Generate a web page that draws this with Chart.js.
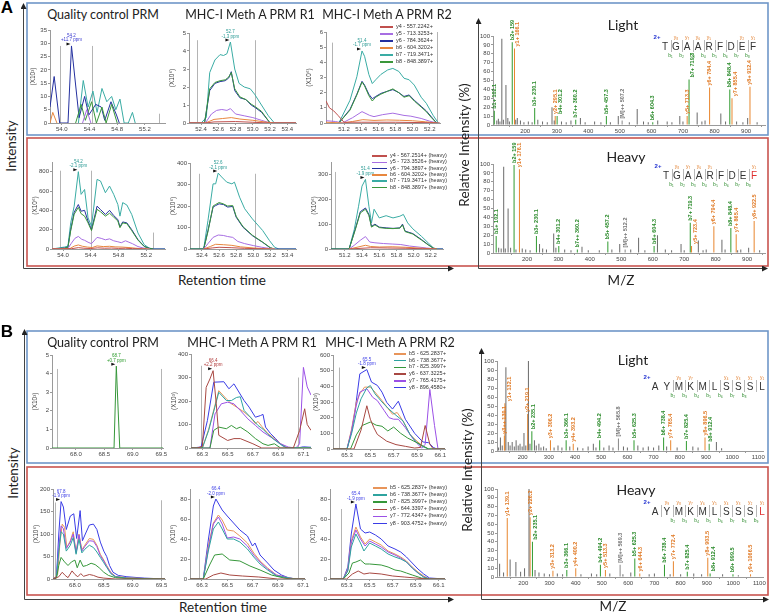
<!DOCTYPE html>
<html>
<head>
<meta charset="utf-8">
<script src="https://cdn.jsdelivr.net/npm/chart.js@4.4.1/dist/chart.umd.min.js"></script>
<style>
  html, body { margin: 0; padding: 0; background: #fff; }
  #fig { position: relative; width: 772px; height: 614px; overflow: hidden; font-family: Lato, "Open Sans", sans-serif; color: #222; }
  #fig canvas { position: absolute; }
  .t { position: absolute; white-space: nowrap; transform: translate(-50%, -50%); line-height: 1; }
  .r { transform: translate(-50%, -50%) rotate(-90deg); }
  .lg { position: absolute; white-space: nowrap; font: 5.5px Arial, sans-serif; color: #333; line-height: 1; transform: translateY(-50%); }
</style>
</head>
<body>
<div id="fig">
<svg width="772" height="614" style="position:absolute;left:0;top:0">
  <defs>
    <marker id="ah" markerWidth="6" markerHeight="6" refX="5" refY="3" orient="auto" markerUnits="userSpaceOnUse">
      <path d="M0,0 L6,3 L0,6 z" fill="#222"/>
    </marker>
  </defs>
  <rect x="27" y="3" width="741" height="132" fill="none" stroke="#6f96c8" stroke-width="1.6"/>
  <rect x="27" y="138" width="741" height="128" fill="none" stroke="#c9544f" stroke-width="1.6"/>
  <rect x="27" y="331" width="741" height="132" fill="none" stroke="#6f96c8" stroke-width="1.6"/>
  <rect x="27" y="467" width="741" height="128" fill="none" stroke="#c9544f" stroke-width="1.6"/>
  <g stroke="#444" stroke-width="1" fill="none">
    <line x1="23.5" y1="268.5" x2="23.5" y2="4" marker-end="url(#ah)"/>
    <line x1="23.5" y1="268.5" x2="453" y2="268.5" marker-end="url(#ah)"/>
    <line x1="478.5" y1="268.5" x2="478.5" y2="19" marker-end="url(#ah)"/>
    <line x1="478.5" y1="268.5" x2="767" y2="268.5" marker-end="url(#ah)"/>
    <line x1="24.5" y1="599.5" x2="24.5" y2="330" marker-end="url(#ah)"/>
    <line x1="24.5" y1="599.5" x2="453" y2="599.5" marker-end="url(#ah)"/>
    <line x1="481.5" y1="599.5" x2="481.5" y2="349" marker-end="url(#ah)"/>
    <line x1="481.5" y1="599.5" x2="768" y2="599.5" marker-end="url(#ah)"/>
  </g>
</svg>
</div>
<script>
// ---------- chromatogram ticks ----------
const tA_qc = [54.0, 54.4, 54.8, 55.2];
const tA_r1 = [52.4, 52.6, 52.8, 53.0, 53.2, 53.4];
const tA_r2 = [51.2, 51.4, 51.6, 51.8, 52.0, 52.2];
const tB_qc = [68.0, 68.5, 69.0, 69.5];
const tB_r1 = [66.3, 66.5, 66.7, 66.9, 67.1];
const tB_r2 = [65.3, 65.5, 65.7, 65.9, 66.1];
const yA1qc = [0, 5, 10, 15, 20, 25, 30, 35];
const yA1r1 = [0, 1, 2, 3, 4, 5];
const yA1r2 = [0, 1, 2, 3, 4, 5, 6];
const yA2qc = [0, 200, 400, 600, 800];
const yA2r1 = [0, 100, 200, 300, 400];
const yA2r2 = [0, 100, 200, 300];
const yB1qc = [0, 1, 2, 3, 4, 5];
const yB1r1 = [0, 100, 200, 300, 400];
const yB1r2 = [0, 100, 200, 300, 400, 500, 600];
const yB2qc = [0, 50, 100, 150, 200];
const yB2r = [0, 20, 40, 60, 80];
const tMzA = [200, 300, 400, 500, 600, 700, 800, 900];
const tMzB = [200, 300, 400, 500, 600, 700, 800, 900, 1000, 1100];
const tPct = [0, 10, 20, 30, 40, 50, 60, 70, 80, 90, 100];

// ---------- legends ----------
const legA1 = ['y4 - 557.2242+', 'y5 - 713.3253+', 'y6 - 784.3624+', 'b6 - 604.3202+', 'b7 - 719.3471+', 'b8 - 848.3897+'];
const legA2 = ['y4 - 567.2514+ (heavy)', 'y5 - 723.3526+ (heavy)', 'y6 - 794.3897+ (heavy)', 'b6 - 604.3202+ (heavy)', 'b7 - 719.3471+ (heavy)', 'b8 - 848.3897+ (heavy)'];
const legB1 = ['b5 - 625.2837+', 'b6 - 738.3677+', 'b7 - 825.3997+', 'y6 - 637.3225+', 'y7 - 765.4175+', 'y8 - 896.4580+'];
const legB2 = ['b5 - 625.2837+ (heavy)', 'b6 - 738.3677+ (heavy)', 'b7 - 825.3997+ (heavy)', 'y6 - 644.3397+ (heavy)', 'y7 - 772.4347+ (heavy)', 'y8 - 903.4752+ (heavy)'];

// ---------- A, light (top row) ----------
const A1qc_b6 = [[53.83,0],[53.87,4],[53.93,0]];
const A1qc_y5 = [[54.30,0],[54.36,5],[54.42,0]];
const A1qc_b8 = [[54.20,0],[54.28,7],[54.34,1],[54.43,8],[54.50,0],[54.58,6],[54.64,0],[54.72,7],[54.80,0]];
const A1qc_y6 = [[53.83,6],[53.89,17.5],[53.97,0],[54.09,0],[54.14,29],[54.25,2],[54.33,10],[54.39,3],[54.49,7],[54.57,6],[54.62,1],[54.71,8],[54.79,3],[54.83,0]];
const A1qc_b7 = [[54.24,0],[54.31,16],[54.38,6],[54.45,12],[54.51,4],[54.58,13],[54.65,8],[54.72,10],[54.78,5],[54.84,9],[54.90,0],[54.96,0],[55.02,4],[55.06,0]];

const A1r1_y4 = [[52.26,0],[52.45,0],[52.55,0.06],[52.8,0.08],[53.0,0.04],[53.2,0],[53.5,0]];
const A1r1_b6 = [[52.26,0],[52.45,0],[52.55,0.2],[52.65,0.25],[52.75,0.3],[52.85,0.22],[53.0,0.15],[53.15,0.05],[53.25,0],[53.5,0]];
const A1r1_y5 = [[52.26,0],[52.45,0],[52.52,0.5],[52.58,0.7],[52.64,0.75],[52.70,0.7],[52.74,0.8],[52.80,0.5],[52.90,0.4],[53.00,0.3],[53.10,0.15],[53.20,0],[53.5,0]];
const A1r1_b8 = [[52.26,0],[52.44,0],[52.50,1.9],[52.56,2.25],[52.62,2.35],[52.68,2.4],[52.72,2.55],[52.75,2.8],[52.79,1.9],[52.85,1.45],[52.92,1.3],[52.98,1.05],[53.03,0.9],[53.10,0.65],[53.20,0],[53.5,0]];
const A1r1_y6 = [[52.26,0],[52.44,0],[52.50,1.8],[52.56,2.2],[52.62,2.3],[52.68,2.35],[52.72,2.5],[52.75,2.85],[52.79,1.8],[52.85,1.4],[52.92,1.3],[52.98,1.0],[53.03,0.85],[53.10,0.6],[53.20,0],[53.5,0]];
const A1r1_b7 = [[52.26,0],[52.40,0],[52.46,0.3],[52.50,2.8],[52.56,3.5],[52.62,3.8],[52.66,3.75],[52.70,3.85],[52.74,4.5],[52.79,3.0],[52.84,2.2],[52.90,2.0],[52.97,1.9],[53.02,1.6],[53.10,1.0],[53.18,0.4],[53.25,0],[53.5,0]];

const A1r2_y4 = [[50.99,1.45],[51.03,1.0],[51.08,0.8],[51.13,0.5],[51.2,0.05],[51.4,0.05],[51.8,0.05],[52.2,0.02],[52.32,0]];
const A1r2_b6 = [[50.99,0.05],[51.2,0],[51.3,0.1],[51.42,0.22],[51.55,0.17],[51.7,0.2],[51.85,0.18],[52.0,0.15],[52.15,0.08],[52.28,0]];
const A1r2_y5 = [[50.99,0.15],[51.1,0.1],[51.18,0],[51.3,0.35],[51.41,0.75],[51.5,0.5],[51.55,0.42],[51.65,0.55],[51.77,0.65],[51.9,0.5],[51.98,0.45],[52.1,0.3],[52.2,0.12],[52.28,0]];
const A1r2_b8 = [[51.14,0],[51.27,0.85],[51.35,1.85],[51.41,2.7],[51.44,2.45],[51.49,1.8],[51.53,1.45],[51.57,1.7],[51.63,1.9],[51.71,2.1],[51.77,2.25],[51.84,2.0],[51.90,1.7],[51.96,1.8],[52.02,1.45],[52.10,1.05],[52.16,0.75],[52.22,0.35],[52.28,0]];
const A1r2_y6 = [[51.14,0],[51.27,0.9],[51.35,1.9],[51.41,2.75],[51.44,2.5],[51.49,1.9],[51.53,1.6],[51.57,1.75],[51.63,1.95],[51.71,2.1],[51.77,2.2],[51.84,2.0],[51.90,1.75],[51.96,1.85],[52.02,1.5],[52.10,1.1],[52.16,0.8],[52.22,0.4],[52.28,0]];
const A1r2_b7 = [[51.14,0],[51.27,1.5],[51.35,3.05],[51.41,4.75],[51.44,4.4],[51.49,3.2],[51.53,2.6],[51.57,2.85],[51.63,3.2],[51.71,3.5],[51.77,3.6],[51.84,3.4],[51.90,2.95],[51.96,2.85],[52.02,2.5],[52.10,1.7],[52.16,1.3],[52.24,0.5],[52.30,0]];

// ---------- A, heavy (bottom row) ----------
const A2qc_y4 = [[53.84,0],[54.12,3],[54.22,14],[54.3,8],[54.4,5],[54.5,12],[54.6,8],[54.7,10],[54.8,6],[54.9,8],[55.0,4],[55.1,2],[55.2,0]];
const A2qc_b6 = [[53.84,0],[54.1,5],[54.16,30],[54.22,42],[54.28,28],[54.35,20],[54.42,15],[54.49,32],[54.58,25],[54.67,28],[54.75,22],[54.85,20],[54.95,15],[55.05,8],[55.15,2],[55.25,0]];
const A2qc_y5 = [[53.84,0],[54.07,5],[54.12,60],[54.17,110],[54.22,130],[54.27,100],[54.31,90],[54.36,70],[54.41,55],[54.49,120],[54.55,110],[54.61,95],[54.67,105],[54.73,85],[54.79,75],[54.84,65],[54.9,85],[54.95,70],[55.0,55],[55.08,25],[55.17,8],[55.25,0]];
const A2qc_b8 = [[53.84,0],[54.02,8],[54.07,18],[54.11,190],[54.16,360],[54.22,430],[54.26,365],[54.31,340],[54.36,270],[54.41,190],[54.49,410],[54.54,385],[54.61,340],[54.67,370],[54.73,330],[54.79,290],[54.82,220],[54.86,270],[54.92,262],[54.99,190],[55.08,92],[55.17,25],[55.24,6],[55.30,0]];
const A2qc_y6 = [[53.84,0],[54.02,10],[54.07,20],[54.11,200],[54.16,380],[54.22,460],[54.26,391],[54.31,400],[54.36,287],[54.41,200],[54.49,443],[54.54,408],[54.61,357],[54.67,400],[54.73,346],[54.79,305],[54.82,228],[54.86,280],[54.92,270],[54.99,200],[55.08,97],[55.17,28],[55.24,8],[55.30,0],[55.47,0]];
const A2qc_b7 = [[53.84,0],[54.02,20],[54.07,30],[54.11,270],[54.16,443],[54.22,800],[54.26,565],[54.31,616],[54.36,322],[54.41,235],[54.49,720],[54.54,703],[54.61,582],[54.67,651],[54.73,565],[54.79,460],[54.82,340],[54.86,480],[54.92,455],[54.99,357],[55.08,166],[55.17,45],[55.24,10],[55.30,0],[55.47,0]];

const A2r1_y4 = [[52.42,0],[52.52,5],[52.6,8],[52.75,6],[52.9,3],[53.1,1],[53.2,0]];
const A2r1_b6 = [[52.42,0],[52.5,12],[52.56,22],[52.65,20],[52.75,17],[52.85,10],[53.0,5],[53.15,1],[53.25,0]];
const A2r1_y5 = [[52.42,0],[52.47,25],[52.53,54],[52.59,65],[52.65,63],[52.70,58],[52.76,54],[52.82,35],[52.9,25],[53.0,16],[53.1,8],[53.2,2],[53.25,0]];
const A2r1_b8 = [[52.26,0],[52.42,0],[52.47,80],[52.53,200],[52.56,207],[52.60,216],[52.65,210],[52.70,200],[52.76,202],[52.80,152],[52.88,104],[52.99,64],[53.11,32],[53.20,6],[53.25,0]];
const A2r1_y6 = [[52.26,0],[52.42,0],[52.47,86],[52.53,195],[52.56,202],[52.60,210],[52.65,207],[52.70,195],[52.76,198],[52.80,148],[52.88,101],[52.99,62],[53.11,31],[53.20,5],[53.25,0],[53.5,0]];
const A2r1_b7 = [[52.26,0],[52.42,0],[52.47,132],[52.53,303],[52.56,303],[52.59,353],[52.63,335],[52.69,311],[52.75,303],[52.78,311],[52.84,241],[52.90,187],[52.99,140],[53.11,86],[53.19,39],[53.25,8],[53.30,0],[53.5,0]];

const A2r2_y4 = [[51.25,0],[51.4,3],[51.5,5],[51.7,4],[51.9,3],[52.1,1],[52.25,0]];
const A2r2_b6 = [[51.25,0],[51.33,6],[51.44,15],[51.5,10],[51.6,8],[51.75,9],[51.9,7],[52.05,4],[52.2,1],[52.27,0]];
const A2r2_y5 = [[51.25,0],[51.31,15],[51.38,35],[51.44,50],[51.49,28],[51.55,25],[51.65,22],[51.75,20],[51.85,18],[51.95,12],[52.05,8],[52.15,4],[52.25,0]];
const A2r2_b8 = [[51.04,0],[51.25,0],[51.32,75],[51.38,145],[51.44,160],[51.48,135],[51.51,88],[51.55,97],[51.60,86],[51.68,83],[51.76,82],[51.84,84],[51.87,97],[51.90,70],[51.99,60],[52.09,36],[52.17,16],[52.23,3],[52.27,0]];
const A2r2_y6 = [[51.04,0],[51.25,0],[51.32,78],[51.38,150],[51.44,165],[51.48,139],[51.51,91],[51.55,100],[51.60,88],[51.68,85],[51.76,83],[51.84,85],[51.87,100],[51.90,72],[51.99,62],[52.09,38],[52.17,17],[52.23,3],[52.27,0],[52.34,0]];
const A2r2_b7 = [[51.04,0],[51.25,0],[51.31,78],[51.36,172],[51.40,253],[51.44,280],[51.48,172],[51.51,105],[51.54,160],[51.60,125],[51.68,134],[51.76,125],[51.84,132],[51.88,139],[51.93,105],[51.99,81],[52.09,51],[52.17,24],[52.23,4],[52.27,0],[52.34,0]];

// ---------- B, light (top row) ----------
const B1qc_b7 = [[67.58,0],[68.67,0],[68.71,4.4],[68.77,0],[69.53,0]];

const B1r1_y6 = [[66.21,0],[66.26,0],[66.30,7],[66.33,258],[66.36,294],[66.385,329],[66.41,188],[66.43,54],[66.50,32],[66.55,40],[66.60,40],[66.70,18],[66.77,0],[67.02,0],[67.07,75],[67.11,167],[67.13,100],[67.16,75]];
const B1r1_b7 = [[66.21,0],[66.36,0],[66.39,75],[66.43,89],[66.49,82],[66.53,96],[66.57,82],[66.60,89],[66.66,68],[66.72,40],[66.78,18],[66.82,11],[66.87,18],[66.92,0],[67.16,0]];
const B1r1_b6 = [[66.21,0],[66.30,0],[66.35,75],[66.43,237],[66.49,202],[66.53,202],[66.57,215],[66.60,218],[66.63,160],[66.70,120],[66.74,96],[66.78,80],[66.82,58],[66.87,35],[66.92,15],[66.97,0],[67.16,0]];
const B1r1_y7 = [[66.21,0],[66.36,0],[66.40,145],[66.45,188],[66.50,195],[66.55,188],[66.60,160],[66.66,124],[66.72,96],[66.78,68],[66.86,40],[66.92,18],[66.98,4],[67.04,0],[67.07,18],[67.10,343],[67.13,260],[67.16,225]];
const B1r1_b5 = [[66.21,0],[66.30,0],[66.35,80],[66.43,244],[66.49,209],[66.53,188],[66.58,171],[66.63,153],[66.68,131],[66.72,103],[66.74,113],[66.77,92],[66.82,61],[66.87,40],[66.92,18],[66.97,0],[67.16,0]];
const B1r1_y8 = [[66.21,0],[66.29,4],[66.34,117],[66.39,280],[66.47,282],[66.51,252],[66.55,273],[66.63,202],[66.67,174],[66.72,131],[66.76,138],[66.78,143],[66.80,89],[66.84,61],[66.88,40],[66.93,11],[66.97,0],[67.05,0],[67.1,5],[67.16,3]];

const B1r2_y6 = [[65.18,0],[65.36,0],[65.42,120],[65.47,276],[65.50,190],[65.53,136],[65.56,93],[65.64,50],[65.72,28],[65.80,17],[65.88,6],[65.93,10],[65.97,150],[66.01,30],[66.04,0],[66.14,0]];
const B1r2_b7 = [[65.18,0],[65.33,0],[65.38,90],[65.43,150],[65.50,172],[65.55,152],[65.60,145],[65.65,115],[65.70,140],[65.76,100],[65.82,70],[65.90,40],[65.95,20],[66.0,0],[66.14,0]];
const B1r2_b6 = [[65.18,0],[65.30,0],[65.34,100],[65.38,230],[65.42,320],[65.47,390],[65.50,405],[65.54,352],[65.60,300],[65.65,261],[65.72,215],[65.78,179],[65.84,93],[65.90,40],[65.95,15],[66.0,0],[66.14,0]];
const B1r2_y7 = [[65.18,0],[65.30,0],[65.34,120],[65.38,280],[65.41,363],[65.47,385],[65.52,330],[65.56,309],[65.62,244],[65.66,200],[65.70,190],[65.74,190],[65.80,136],[65.86,71],[65.91,28],[65.94,5],[65.97,30],[66.01,380],[66.05,150],[66.08,0],[66.14,0]];
const B1r2_b5 = [[65.18,0],[65.30,0],[65.34,130],[65.38,300],[65.41,352],[65.45,395],[65.50,395],[65.54,363],[65.60,309],[65.65,260],[65.69,222],[65.73,233],[65.78,179],[65.84,93],[65.90,50],[65.95,17],[66.0,0],[66.14,0]];
const B1r2_y8 = [[65.18,0],[65.30,0],[65.34,114],[65.37,250],[65.41,480],[65.47,507],[65.51,427],[65.56,406],[65.60,363],[65.64,298],[65.69,255],[65.74,305],[65.80,190],[65.88,100],[65.95,45],[66.0,40],[66.04,10],[66.07,0],[66.14,0]];

// ---------- B, heavy (bottom row) ----------
const B2qc_y6 = [[67.62,0],[67.72,5],[67.78,15],[67.83,8],[67.88,3],[67.95,18],[68.0,10],[68.05,5],[68.1,12],[68.15,6],[68.25,10],[68.32,8],[68.4,4],[68.5,2],[68.7,0],[69.56,0]];
const B2qc_b7 = [[67.62,0],[67.68,2],[67.72,30],[67.76,48],[67.82,38],[67.88,30],[67.94,38],[68.0,42],[68.04,25],[68.09,42],[68.14,28],[68.2,30],[68.28,35],[68.35,32],[68.42,25],[68.5,15],[68.58,8],[68.7,3],[68.9,1],[69.56,0]];
const B2qc_b6 = [[67.62,0],[67.68,4],[67.72,60],[67.76,105],[67.80,100],[67.85,62],[67.92,75],[67.97,92],[68.02,55],[68.07,88],[68.12,58],[68.17,66],[68.25,75],[68.32,70],[68.38,60],[68.44,48],[68.50,36],[68.55,26],[68.62,12],[68.7,5],[68.9,2],[69.56,0]];
const B2qc_y7 = [[67.62,0],[67.68,5],[67.72,70],[67.76,118],[67.80,112],[67.85,68],[67.92,82],[67.97,100],[68.02,58],[68.07,98],[68.12,62],[68.17,72],[68.25,85],[68.32,84],[68.38,72],[68.44,52],[68.50,40],[68.55,28],[68.62,14],[68.7,5],[68.9,2],[69.56,0]];
const B2qc_b5 = [[67.62,0],[67.70,10],[67.74,80],[67.78,122],[67.82,115],[67.86,70],[67.92,85],[67.97,105],[68.02,60],[68.07,100],[68.12,65],[68.17,75],[68.25,90],[68.32,88],[68.38,75],[68.44,55],[68.50,42],[68.55,30],[68.62,15],[68.7,6],[68.9,3],[69.2,1],[69.56,0]];
const B2qc_y8 = [[67.62,0],[67.68,5],[67.72,100],[67.76,172],[67.80,160],[67.85,110],[67.92,140],[67.98,145],[68.03,90],[68.09,152],[68.13,85],[68.18,100],[68.25,120],[68.32,122],[68.38,110],[68.44,82],[68.50,62],[68.55,50],[68.60,30],[68.66,15],[68.75,8],[68.9,5],[69.2,2],[69.56,0]];

const B2r1_y6 = [[66.205,0],[66.33,0],[66.39,4],[66.45,6],[66.52,4],[66.62,3],[66.75,2],[66.9,0],[67.116,0]];
const B2r1_b7 = [[66.205,0],[66.31,0],[66.36,14],[66.40,24],[66.46,25],[66.52,19],[66.60,18],[66.68,13],[66.76,9],[66.85,4],[66.95,1],[67.0,0],[67.116,0]];
const B2r1_b6 = [[66.205,0],[66.31,0],[66.35,28],[66.39,50],[66.43,57],[66.46,50],[66.50,40],[66.55,40],[66.60,37],[66.66,30],[66.71,22],[66.76,15],[66.82,9],[66.89,3],[66.99,1],[67.05,0],[67.116,0]];
const B2r1_y7 = [[66.205,0],[66.31,0],[66.35,30],[66.39,55],[66.43,62],[66.46,55],[66.50,41],[66.55,42],[66.60,40],[66.66,33],[66.71,24],[66.76,17],[66.82,10],[66.89,4],[66.99,1],[67.05,0],[67.116,0]];
const B2r1_b5 = [[66.205,0],[66.31,0],[66.35,33],[66.39,56],[66.43,64],[66.46,59],[66.50,49],[66.55,48],[66.60,43],[66.66,36],[66.71,26],[66.76,18],[66.82,11],[66.89,4],[66.99,1],[67.05,0],[67.116,0]];
const B2r1_y8 = [[66.205,0],[66.31,0],[66.35,39],[66.39,73],[66.41,80],[66.46,69],[66.50,63],[66.55,56],[66.60,49],[66.66,43],[66.70,33],[66.72,36],[66.76,24],[66.82,16],[66.87,9],[66.93,4],[66.99,1],[67.05,0],[67.116,0]];

const B2r2_y6 = [[65.155,0],[65.3,0],[65.35,5],[65.4,8],[65.45,5],[65.5,6],[65.6,5],[65.7,3],[65.8,2],[65.9,1],[66.0,0],[66.155,0]];
const B2r2_b7 = [[65.155,0],[65.27,0],[65.32,6],[65.35,16],[65.38,17],[65.42,19],[65.46,15],[65.5,15],[65.6,14],[65.66,12],[65.72,9],[65.77,8],[65.82,6],[65.87,4],[65.95,1],[66.02,0],[66.155,0]];
const B2r2_b6 = [[65.155,0],[65.27,0],[65.31,8],[65.34,32],[65.38,45],[65.42,36],[65.45,28],[65.5,36],[65.55,33],[65.6,30],[65.66,25],[65.72,22],[65.77,20],[65.82,17],[65.87,11],[65.92,6],[65.97,2],[66.02,0],[66.155,0]];
const B2r2_y7 = [[65.155,0],[65.27,0],[65.31,9],[65.34,36],[65.38,49],[65.42,40],[65.46,33],[65.5,38],[65.55,35],[65.6,32],[65.66,27],[65.72,24],[65.77,21],[65.82,17],[65.87,11],[65.92,6],[65.97,2],[66.02,0],[66.155,0]];
const B2r2_b5 = [[65.155,0],[65.27,0],[65.31,10],[65.34,38],[65.38,52],[65.42,42],[65.46,35],[65.5,40],[65.55,37],[65.6,34],[65.66,28],[65.72,25],[65.77,22],[65.82,18],[65.87,12],[65.92,7],[65.97,3],[66.02,0],[66.155,0]];
const B2r2_y8 = [[65.155,0],[65.27,0],[65.31,12],[65.34,45],[65.38,75],[65.42,50],[65.46,46],[65.5,47],[65.55,44],[65.6,40],[65.66,33],[65.72,30],[65.77,27],[65.82,22],[65.87,16],[65.92,10],[65.97,5],[66.02,1],[66.155,0]];

// ---------- spectra: [m/z, relative intensity %, label] ----------
const aLt_gray = [[110,5],[115,7],[120,4],[126,97],[131,6],[139,45],[145,8],[150,4],[170,6],[175,8],[185,5],[196,3],[210,4],[222,3],[240,6],[255,4],[270,3],[285,20],[292,5],[315,4],[330,3],[345,5],[375,8],[390,3],[420,4],[440,3],[470,3],[495,10],[530,3],[555,18],[575,4],[590,3],[620,5],[650,4],[665,3],[690,10],[700,4],[745,14],[760,4],[770,5],[820,13],[835,4],[870,4],[890,3],[905,8],[935,3]];
const aLt_b = [[102.1,16,'b1+ 102.1'],[159,93,'b2+ 159'],[230.1,19,'b3+ 230.1'],[301.2,10,'b4+ 301.2'],[360.2,6,'b7++ 360.2'],[457.3,10,'b5+ 457.3'],[604.3,3,'b6+ 604.3'],[719.3,51,'b7+ 719.3'],[848.4,40,'b8+ 848.4']];
const aLt_y = [[166.1,86,'y1+ 166.1'],[295.1,10,'y2+ 295.1'],[713.3,10,'y5+ 713.3'],[784.4,42,'y6+ 784.4'],[855.4,30,'y7+ 855.4'],[912.4,43,'y8+ 912.4']];
const aLt_m = [[507.2,5,'[M]++ 507.2']];

const aHv_gray = [[110,6],[118,5],[126,97],[131,5],[140,50],[148,6],[165,4],[185,5],[196,4],[210,3],[240,10],[250,5],[262,4],[285,22],[292,6],[320,4],[340,3],[375,7],[395,3],[430,3],[470,4],[495,10],[530,4],[555,17],[575,3],[615,20],[640,4],[660,3],[690,10],[700,3],[745,14],[760,3],[770,4],[820,15],[830,4],[870,3],[880,4],[905,6],[940,3]];
const aHv_b = [[102.1,19,'b1+ 102.1'],[159,99,'b2+ 159'],[230.1,19,'b3+ 230.1'],[301.2,8,'b4+ 301.2'],[360.2,4,'b7++ 360.2'],[457.2,13,'b5+ 457.2'],[604.3,8,'b6+ 604.3'],[719.3,34,'b7+ 719.3'],[848.4,28,'b8+ 848.4']];
const aHv_y = [[176.1,94,'y1+ 176.1'],[723.4,8,'y5+ 723.4'],[794.4,30,'y6+ 794.4'],[865.4,21,'y7+ 865.4'],[922.5,36,'y8+ 922.5']];
const aHv_m = [[512.2,4,'[M]++ 512.2']];

const bLt_gray = [[108,4],[115,15],[122,6],[136,93],[145,10],[152,6],[160,10],[168,5],[175,12],[183,6],[190,8],[198,5],[205,20],[212,6],[222,100],[228,8],[245,12],[252,6],[262,8],[270,4],[280,5],[290,3],[320,4],[335,6],[350,4],[380,5],[410,4],[430,3],[450,5],[470,8],[480,4],[510,4],[530,6],[545,4],[585,5],[600,4],[640,6],[660,4],[680,5],[700,4],[720,6],[750,5],[790,4],[850,5],[870,4],[940,10],[960,3]];
const bLt_b = [[235.1,22,'b2+ 235.1'],[366.1,12,'b3+ 366.1'],[494.2,12,'b4+ 494.2'],[625.3,12,'b5+ 625.3'],[738.4,15,'b6+ 738.4'],[825.4,11,'b7+ 825.4'],[912.4,8,'b8+ 912.4']];
const bLt_y = [[130.1,17,'y3++ 130.1'],[132.1,53,'y1+ 132.1'],[219.1,41,'y2+ 219.1'],[306.2,12,'y3+ 306.2'],[393.2,8,'y4+ 393.2'],[765.4,12,'y7+ 765.4'],[896.5,15,'y8+ 896.5']];
const bLt_m = [[565.8,14,'[M]++ 565.8']];

const bHv_gray = [[110,15],[125,5],[150,20],[172,17],[190,6],[205,10],[222,100],[245,8],[260,5],[280,4],[300,3],[330,4],[350,3],[420,3],[460,4],[480,3],[530,4],[580,3],[610,5],[680,3],[700,4],[760,3],[800,3],[850,4],[880,3],[960,3],[1020,2]];
const bHv_b = [[235.1,40,'b2+ 235.1'],[366.1,8,'b3+ 366.1'],[494.2,14,'b4+ 494.2'],[625.3,21,'b5+ 625.3'],[738.4,14,'b6+ 738.4'],[825.4,6,'b7+ 825.4'],[912.4,4,'b8+ 912.4'],[999.5,3,'b9+ 999.5']];
const bHv_y = [[139.1,67,'y1+ 139.1'],[226.2,68,'y2+ 226.2'],[313.2,7,'y3+ 313.2'],[400.2,10,'y4+ 400.2'],[513.3,8,'y5+ 513.3'],[644.3,4,'y6+ 644.3'],[772.4,18,'y7+ 772.4'],[903.5,22,'y8+ 903.5'],[1066.5,3,'y9+ 1066.5']];
const bHv_m = [[569.3,14,'[M]++ 569.3']];

// peptide fragment maps: [residue index, ion number]
const seqA = 'TGAARFDEF';
const seqB = 'AYMKMLSSSL';
const aLt_yIons = [[1,8],[2,7],[3,6],[4,5],[7,2],[8,1]];
const aLt_bIons = [[0,1],[1,2],[2,3],[3,4],[4,5],[5,6],[6,7],[7,8]];
const aHv_yIons = [[1,8],[2,7],[3,6],[4,5],[8,1]];
const aHv_bIons = [[0,1],[1,2],[2,3],[3,4],[4,5],[5,6],[6,7],[7,8]];
const bLt_yIons = [[2,8],[3,7],[6,4],[7,3],[8,2],[9,1]];
const bLt_bIons = [[1,2],[2,3],[3,4],[4,5],[5,6],[6,7],[7,8]];
const bHv_yIons = [[1,9],[2,8],[3,7],[4,6],[5,5],[6,4],[7,3],[8,2],[9,1]];
const bHv_bIons = [[1,2],[2,3],[3,4],[4,5],[5,6],[6,7],[7,8],[8,9]];

// ---------- drawing ----------
Chart.defaults.font.family = 'Arial, "Liberation Sans", sans-serif';
const fig = document.getElementById('fig');
const colA = { y4: '#c0504d', y5: '#a76ee2', y6: '#24309f', b6: '#e8873f', b7: '#3aaca4', b8: '#3a973a' };
const colB = { b5: '#e8955a', b6: '#2ea39f', b7: '#36973a', y6: '#a84842', y7: '#9b50e6', y8: '#3a3ce6' };
const SUB = '₀₁₂₃₄₅₆₇₈₉';

function canvasAt(box, yw, pt, pr, xh) {
    const [l, t, r, b] = box;
    const w = Math.round(r - l + yw + pr), h = Math.round(b - t + pt + xh);
    const c = document.createElement('canvas');
    c.width = w; c.height = h;
    c.style.left = (l - yw) + 'px';
    c.style.top = (t - pt) + 'px';
    c.style.width = w + 'px';
    c.style.height = h + 'px';
    fig.appendChild(c);
    return c;
}

function axis(min, max, ticks, fmt, extra) {
    return Object.assign({
        type: 'linear', min, max, offset: false,
        afterBuildTicks: s => { s.ticks = ticks.map(v => ({ value: v })); },
        ticks: { font: { size: 6 }, color: '#444', padding: 1, autoSkip: false, maxRotation: 0, callback: fmt },
        grid: { display: true, drawOnChartArea: false, drawTicks: true, tickLength: 2, color: '#9a9a9a' },
        border: { color: '#9a9a9a', width: 1 }
    }, extra);
}

function chrom(box, xr, xt, yt, ymax, unit, lines, bounds, note) {
    const YW = 21, PT = 6, PR = 4, XH = 11;
    const c = canvasAt(box, YW, PT, PR, XH);
    const marks = {
        id: 'marks',
        beforeDatasetsDraw(ch) {
            const { ctx, scales: { x, y } } = ch;
            ctx.save();
            ctx.strokeStyle = '#b4b4b4';
            ctx.lineWidth = 1;
            bounds.forEach(bd => {
                const px = Math.round(x.getPixelForValue(bd[0])) + 0.5;
                ctx.beginPath();
                ctx.moveTo(px, y.getPixelForValue(0));
                ctx.lineTo(px, y.getPixelForValue(bd[1]));
                ctx.stroke();
            });
            ctx.restore();
        },
        afterDatasetsDraw(ch) {
            if (!note) return;
            const { ctx, scales: { x, y } } = ch;
            const px = x.getPixelForValue(note[0]), py = y.getPixelForValue(note[1]);
            ctx.save();
            ctx.fillStyle = '#111';
            ctx.beginPath();
            ctx.moveTo(px - 5, py - 3.5);
            ctx.lineTo(px - 1, py - 2);
            ctx.lineTo(px - 5, py - 0.5);
            ctx.fill();
            ctx.fillStyle = note[4];
            ctx.font = '4.5px Arial';
            ctx.textAlign = 'center';
            ctx.fillText(note[2], px, py - 9);
            ctx.fillText(note[3], px, py - 4.5);
            ctx.restore();
        }
    };
    new Chart(c, {
        type: 'line',
        data: {
            datasets: lines.map(([pts, col]) => ({
                data: pts.map(p => ({ x: p[0], y: p[1] })),
                borderColor: col, borderWidth: 1, pointRadius: 0, tension: 0, fill: false
            }))
        },
        options: {
            responsive: false, animation: false, devicePixelRatio: 1,
            layout: { padding: { top: PT, right: PR, left: 0, bottom: 0 } },
            plugins: { legend: { display: false }, tooltip: { enabled: false } },
            scales: {
                x: axis(xr[0], xr[1], xt, v => v.toFixed(1), {
                    afterFit: s => { s.height = XH; s.paddingLeft = 0; s.paddingRight = 0; }
                }),
                y: axis(0, ymax, yt, v => String(v), {
                    title: { display: true, text: unit, font: { size: 6.5 }, color: '#444', padding: 0 },
                    afterFit: s => { s.width = YW; s.paddingTop = 0; s.paddingBottom = 0; }
                })
            }
        },
        plugins: [marks]
    });
}

function spectrum(box, xr, xt, gray, bI, yI, mI) {
    const YW = 15, PT = 44, PR = 5, XH = 11;
    const c = canvasAt(box, YW, PT, PR, XH);
    const sticks = (arr, col) => ({
        data: arr.map(p => ({ x: p[0], y: p[1] })),
        backgroundColor: col, barThickness: 1, grouped: false, borderWidth: 0, inflateAmount: 0
    });
    const labels = {
        id: 'peakLabels',
        afterDatasetsDraw(ch) {
            const { ctx, scales: { x, y } } = ch;
            const items = [];
            bI.forEach(p => items.push([p, '#2a8a2a']));
            yI.forEach(p => items.push([p, '#e07a26']));
            mI.forEach(p => items.push([p, '#777']));
            items.sort((a, b) => a[0][0] - b[0][0]);
            let last = -99;
            ctx.save();
            ctx.font = 'bold 5.5px Arial';
            ctx.textBaseline = 'middle';
            ctx.textAlign = 'left';
            items.forEach(([p, col]) => {
                let px = x.getPixelForValue(p[0]);
                if (px - last < 5.5) px = last + 5.5;
                last = px;
                const py = y.getPixelForValue(p[1]) - 2;
                ctx.save();
                ctx.translate(px, py);
                ctx.rotate(-Math.PI / 2);
                ctx.fillStyle = col;
                ctx.fillText(p[2], 0, 0);
                ctx.restore();
            });
            ctx.restore();
        }
    };
    new Chart(c, {
        type: 'bar',
        data: { datasets: [sticks(gray, '#6a6a6a'), sticks(mI, '#888'), sticks(bI, '#2f9a2f'), sticks(yI, '#e8862e')] },
        options: {
            responsive: false, animation: false, devicePixelRatio: 1,
            layout: { padding: { top: PT, right: PR, left: 0, bottom: 0 } },
            plugins: { legend: { display: false }, tooltip: { enabled: false } },
            scales: {
                x: axis(xr[0], xr[1], xt, v => String(v), {
                    afterFit: s => { s.height = XH; s.paddingLeft = 0; s.paddingRight = 0; }
                }),
                y: axis(0, 100, tPct, v => String(v), {
                    afterFit: s => { s.width = YW; s.paddingTop = 0; s.paddingBottom = 0; }
                })
            }
        },
        plugins: [labels]
    });
}

function txt(s, x, y, css, cls) {
    const d = document.createElement('div');
    d.className = 't' + (cls ? ' ' + cls : '');
    d.textContent = s;
    d.style.cssText = `left:${x}px;top:${y}px;${css}`;
    fig.appendChild(d);
    return d;
}

function legend(x, y, dy, lw, names, cols) {
    names.forEach((n, i) => {
        const ln = document.createElement('div');
        ln.style.cssText = `position:absolute;left:${x}px;top:${y + i * dy - 0.75}px;width:${lw}px;height:1.5px;background:${cols[i]}`;
        fig.appendChild(ln);
        const d = document.createElement('div');
        d.className = 'lg';
        d.textContent = n;
        d.style.left = (x + lw + 3) + 'px';
        d.style.top = (y + i * dy) + 'px';
        fig.appendChild(d);
    });
}

function peptide(x0, step, yL, letters, yIons, bIons, redLast) {
    txt('2+', x0 - 8, yL - 9, 'font:bold 6px Arial;color:#1f2fd0');
    const cuts = new Set();
    yIons.forEach(([i]) => cuts.add(i - 0.5));
    bIons.forEach(([i]) => cuts.add(i + 0.5));
    cuts.forEach(k => {
        const d = document.createElement('div');
        d.style.cssText = `position:absolute;left:${x0 + k * step}px;top:${yL - 6}px;width:0;height:12px;border-left:1px solid #b8b8b8`;
        fig.appendChild(d);
    });
    letters.split('').forEach((ch, i) => {
        const red = redLast && i === letters.length - 1;
        txt(ch, x0 + i * step, yL, `font:10px Arial;color:${red ? '#e03030' : '#333'}`);
    });
    yIons.forEach(([i, n]) => txt('y' + SUB[n], x0 + i * step, yL - 9, 'font:5px Arial;color:#e07a26'));
    bIons.forEach(([i, n]) => txt('b' + SUB[n], x0 + (i + 0.5) * step, yL + 9, 'font:5px Arial;color:#2a8a2a'));
}

const lsA = (m) => [[m.y4, colA.y4], [m.b6, colA.b6], [m.y5, colA.y5], [m.b8, colA.b8], [m.y6, colA.y6], [m.b7, colA.b7]].filter(l => l[0]);
const lsB = (m) => [[m.y6, colB.y6], [m.b7, colB.b7], [m.b6, colB.b6], [m.y7, colB.y7], [m.b5, colB.b5], [m.y8, colB.y8]].filter(l => l[0]);

// A – light
chrom([50, 30, 165, 123], [53.83, 55.49], tA_qc, yA1qc, 35, '(X10³)',
    lsA({ b6: A1qc_b6, y5: A1qc_y5, b8: A1qc_b8, y6: A1qc_y6, b7: A1qc_b7 }),
    [[53.97, 29], [54.44, 29], [55.41, 3.5]], [54.14, 29, '54.2', '+11.7 ppm', '#3a3ad0']);
chrom([189, 33, 296, 123], [52.26, 53.50], tA_r1, yA1r1, 5, '(X10⁶)',
    lsA({ y4: A1r1_y4, b6: A1r1_b6, y5: A1r1_y5, b8: A1r1_b8, y6: A1r1_y6, b7: A1r1_b7 }),
    [[52.35, 4.6], [53.03, 4.6]], [52.74, 4.5, '52.7', '-1.3 ppm', '#2a9a94']);
chrom([326, 32, 440, 123], [50.99, 52.32], tA_r2, yA1r2, 6, '(X10⁶)',
    lsA({ y4: A1r2_y4, b6: A1r2_b6, y5: A1r2_y5, b8: A1r2_b8, y6: A1r2_y6, b7: A1r2_b7 }),
    [[51.06, 5.3], [52.29, 6]], [51.41, 4.75, '51.4', '-1.7 ppm', '#2a9a94']);
// A – heavy
chrom([52, 162, 165, 249], [53.84, 55.47], tA_qc, yA2qc, 900, '(X10⁶)',
    lsA({ y4: A2qc_y4, b6: A2qc_b6, y5: A2qc_y5, b8: A2qc_b8, y6: A2qc_y6, b7: A2qc_b7 }),
    [[53.96, 810], [54.40, 810], [55.30, 170]], [54.22, 800, '54.2', '-2.1 ppm', '#2a9a94']);
chrom([190, 162.5, 296, 248.5], [52.26, 53.50], tA_r1, yA2r1, 400, '(X10⁶)',
    lsA({ y4: A2r1_y4, b6: A2r1_b6, y5: A2r1_y5, b8: A2r1_b8, y6: A2r1_y6, b7: A2r1_b7 }),
    [[52.37, 350], [53.02, 350]], [52.59, 353, '52.6', '-2.1 ppm', '#2a9a94']);
chrom([331, 162, 443, 249], [51.04, 52.34], tA_r2, yA2r2, 350, '(X10⁶)',
    lsA({ y4: A2r2_y4, b6: A2r2_b6, y5: A2r2_y5, b8: A2r2_b8, y6: A2r2_y6, b7: A2r2_b7 }),
    [[51.09, 310]], [51.44, 280, '51.4', '-1.9 ppm', '#2a9a94']);
// B – light
chrom([52, 355, 163, 448], [67.58, 69.53], tB_qc, yB1qc, 5, '(X10³)',
    [[B1qc_b7, colB.b7]],
    [[67.66, 4.25], [69.49, 4.25]], [68.71, 4.4, '68.7', '+0.7 ppm', '#2a9a2a']);
chrom([191, 354, 311, 448], [66.21, 67.16], tB_r1, yB1r1, 400, '(X10³)',
    lsB({ y6: B1r1_y6, b7: B1r1_b7, b6: B1r1_b6, y7: B1r1_y7, b5: B1r1_b5, y8: B1r1_y8 }),
    [[66.29, 350], [67.06, 300]], [66.385, 329, '66.4', '+2.2 ppm', '#b03a3a']);
chrom([333, 354.5, 445, 448], [65.18, 66.14], tB_r2, yB1r2, 600, '(X10³)',
    lsB({ y6: B1r2_y6, b7: B1r2_b7, b6: B1r2_b6, y7: B1r2_y7, b5: B1r2_b5, y8: B1r2_y8 }),
    [[65.23, 520]], [65.47, 507, '65.5', '-1.8 ppm', '#3a3ce6']);
// B – heavy
chrom([53, 489, 165, 579], [67.62, 69.56], tB_qc, yB2qc, 200, '(X10⁶)',
    lsB({ y6: B2qc_y6, b7: B2qc_b7, b6: B2qc_b6, y7: B2qc_y7, b5: B2qc_b5, y8: B2qc_y8 }),
    [[67.65, 170], [69.49, 175]], [67.76, 172, '67.8', '-1.9 ppm', '#3a3ce6']);
chrom([190, 489, 305, 579], [66.205, 67.116], tB_r1, yB2r, 90, '(X10⁶)',
    lsB({ y6: B2r1_y6, b7: B2r1_b7, b6: B2r1_b6, y7: B2r1_y7, b5: B2r1_b5, y8: B2r1_y8 }),
    [[66.28, 80], [67.06, 80]], [66.41, 80, '66.4', '-2.0 ppm', '#3a3ce6']);
chrom([330, 489, 445, 579], [65.155, 66.155], tB_r2, yB2r, 90, '(X10⁶)',
    lsB({ y6: B2r2_y6, b7: B2r2_b7, b6: B2r2_b6, y7: B2r2_y7, b5: B2r2_b5, y8: B2r2_y8 }),
    [[65.25, 70]], [65.38, 75, '65.4', '-1.9 ppm', '#3a3ce6']);

// spectra
spectrum([493, 36, 765, 125], [98, 960], tMzA, aLt_gray, aLt_b, aLt_y, aLt_m);
spectrum([493, 164.4, 765, 253.5], [92, 957], tMzA, aHv_gray, aHv_b, aHv_y, aHv_m);
spectrum([497, 361, 763, 450.7], [102, 1118], tMzB, bLt_gray, bLt_b, bLt_y, bLt_m);
spectrum([497, 489.3, 763, 577.3], [100, 1114], tMzB, bHv_gray, bHv_b, bHv_y, bHv_m);

// legends
legend(380, 27, 7, 13, legA1, [colA.y4, colA.y5, colA.y6, colA.b6, colA.b7, colA.b8]);
legend(372, 156, 6.3, 15, legA2, [colA.y4, colA.y5, colA.y6, colA.b6, colA.b7, colA.b8]);
legend(394, 354, 6.7, 12, legB1, [colB.b5, colB.b6, colB.b7, colB.y6, colB.y7, colB.y8]);
legend(373, 488, 7.1, 14, legB2, [colB.b5, colB.b6, colB.b7, colB.y6, colB.y7, colB.y8]);

// peptide sequences
peptide(665, 11, 46, seqA, aLt_yIons, aLt_bIons, false);
peptide(666, 11, 175, seqA, aHv_yIons, aHv_bIons, true);
peptide(655, 11.9, 386, seqB, bLt_yIons, bLt_bIons, false);
peptide(655, 11.9, 511, seqB, bHv_yIons, bHv_bIons, true);

// titles and axis labels
const ttl = 'font-size:12.5px;color:#222';
txt('Quality control PRM', 103, 15, ttl);
txt('MHC-I Meth A PRM R1', 250, 15, ttl);
txt('MHC-I Meth A PRM R2', 387, 15, ttl);
txt('Quality control PRM', 103, 343, ttl);
txt('MHC-I Meth A PRM R1', 252, 343, ttl);
txt('MHC-I Meth A PRM R2', 390, 343, ttl);
const big = 'font-size:14px;color:#222';
txt('Light', 623, 25, big);
txt('Heavy', 626, 157, big);
txt('Light', 633, 360, big);
txt('Heavy', 636, 490, big);
const ax = 'font-size:13.5px;color:#222';
txt('Retention time', 222, 281, ax);
txt('M/Z', 621, 281, ax);
txt('Retention time', 223, 608, ax);
txt('M/Z', 613, 607, ax);
txt('Intensity', 12, 146, ax, 'r');
txt('Intensity', 14, 473, ax, 'r');
txt('Relative Intensity (%)', 465, 145, ax, 'r');
txt('Relative Intensity (%)', 468, 470, ax, 'r');
txt('A', 7, 8, 'font:bold 17px Arial;color:#000');
txt('B', 7, 332, 'font:bold 17px Arial;color:#000');
</script>
</body>
</html>
